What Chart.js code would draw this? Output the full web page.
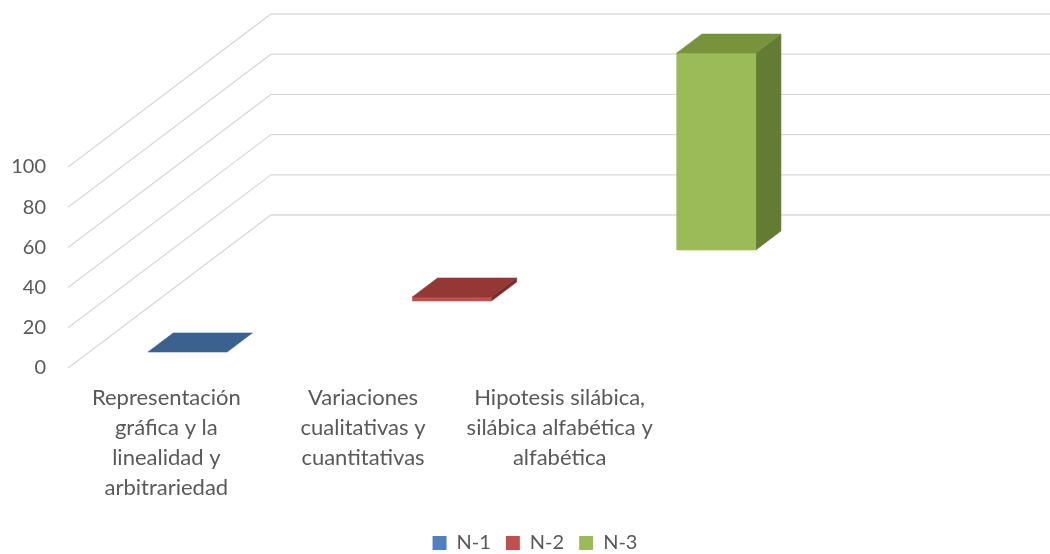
<!DOCTYPE html>
<html>
<head>
<meta charset="utf-8">
<script src="https://cdn.jsdelivr.net/npm/chart.js@4/dist/chart.umd.min.js"></script>
<style>
  html, body { margin: 0; padding: 0; background: #ffffff; }
  #wrap { width: 1050px; height: 554px; position: relative; }
</style>
</head>
<body>
<div id="wrap"><canvas id="chart"></canvas></div>
<script>
// Categories (multi-line labels) and series
const categories = [
  ["Representación", "gráfica y la", "linealidad y", "arbitrariedad"],
  ["Variaciones", "cualitativas y", "cuantitativas"],
  ["Hipotesis silábica,", "silábica alfabética y", "alfabética"]
];
const seriesNames = ["N-1", "N-2", "N-3"];
const n1Values = [0, null, null];
const n2Values = [null, 2, null];
const n3Values = [null, null, 98];
const yTickValues = [0, 20, 40, 60, 80, 100];

// Face colours for each series: front, top, right side
const shades = [
  { front: "#4F81BD", top: "#3A6190", side: "#2E4D74" },
  { front: "#C0504D", top: "#953735", side: "#7A2C2A" },
  { front: "#9BBB59", top: "#77933C", side: "#637B33" }
];

const textColor = "#595959";
const fontFamily = "Lato, 'Open Sans', sans-serif";

// Draws the slanted floor/back-wall grid and the 3D columns, series in depth
const depth3d = {
  id: "depth3d",
  beforeDatasetsDraw(chart, args, opts) {
    const { ctx, chartArea, scales: { y } } = chart;
    const dx = opts.depthX, dy = opts.depthY;
    ctx.save();
    ctx.strokeStyle = opts.gridColor;
    ctx.lineWidth = opts.gridWidth;
    y.ticks.forEach(t => {
      const py = y.getPixelForValue(t.value);
      ctx.beginPath();
      ctx.moveTo(chartArea.left, py);
      ctx.lineTo(chartArea.left + dx, py + dy);
      ctx.lineTo(chart.width, py + dy);
      ctx.stroke();
    });

    const poly = (pts, color) => {
      ctx.beginPath();
      ctx.moveTo(pts[0][0], pts[0][1]);
      for (let k = 1; k < pts.length; k++) ctx.lineTo(pts[k][0], pts[k][1]);
      ctx.closePath();
      ctx.fillStyle = color;
      ctx.strokeStyle = color;
      ctx.lineWidth = 0.6;
      ctx.fill();
      ctx.stroke();
    };

    const n = chart.data.datasets.length;
    for (let s = n - 1; s >= 0; s--) {
      if (!chart.isDatasetVisible(s)) continue;
      const meta = chart.getDatasetMeta(s);
      const ds = chart.data.datasets[s];
      const sh = shades[s];
      const c = (s + 0.5) / n;
      const f = c - opts.barDepth / 2, b = c + opts.barDepth / 2;
      const fx = dx * f, fy = dy * f, kx = dx * b, ky = dy * b;
      meta.data.forEach((bar, i) => {
        if (ds.data[i] == null) return;
        const p = bar.getProps(["x", "y", "base", "width"], true);
        const l = p.x - p.width / 2, r = p.x + p.width / 2;
        const top = p.y, base = p.base;
        if (base - top > 0.5) {
          poly([[r + fx, top + fy], [r + kx, top + ky], [r + kx, base + ky], [r + fx, base + fy]], sh.side);
          poly([[l + fx, top + fy], [r + fx, top + fy], [r + fx, base + fy], [l + fx, base + fy]], sh.front);
        }
        poly([[l + fx, top + fy], [r + fx, top + fy], [r + kx, top + ky], [l + kx, top + ky]], sh.top);
      });
    }
    ctx.restore();
    return false;
  }
};

const seriesValues = [n1Values, n2Values, n3Values];

new Chart(document.getElementById("chart"), {
  type: "bar",
  data: {
    labels: categories,
    datasets: seriesNames.map((name, s) => ({
      label: name,
      data: seriesValues[s],
      backgroundColor: shades[s].front,
      borderWidth: 0,
      grouped: false,
      categoryPercentage: 1,
      barPercentage: 0.402
    }))
  },
  options: {
    responsive: true,
    maintainAspectRatio: false,
    animation: false,
    layout: { padding: { top: 167, right: -20, left: 0, bottom: -9 } },
    scales: {
      x: {
        grid: { display: false, drawTicks: false },
        border: { display: false },
        ticks: {
          color: textColor,
          font: { family: fontFamily, size: 22, lineHeight: 1.364 },
          padding: 15,
          maxRotation: 0,
          autoSkip: false
        },
        afterFit(scale) { scale.height = 150; }
      },
      y: {
        min: 0,
        max: 100,
        grid: { display: false, drawTicks: false },
        border: { display: false },
        afterBuildTicks(scale) { scale.ticks = yTickValues.map(v => ({ value: v })); },
        ticks: { color: textColor, font: { family: fontFamily, size: 20 }, padding: 22 },
        afterFit(scale) { scale.width = 68; }
      },
      // empty space to the right of the floor, where the back wall continues
      wall: {
        type: "linear",
        position: "right",
        display: true,
        grid: { display: false, drawTicks: false },
        border: { display: false },
        ticks: { display: false },
        afterFit(scale) { scale.width = 412; }
      }
    },
    plugins: {
      legend: {
        position: "bottom",
        labels: {
          color: textColor,
          font: { family: fontFamily, size: 20 },
          boxWidth: 14,
          boxHeight: 14,
          padding: 15
        }
      },
      tooltip: { enabled: false },
      depth3d: {
        depthX: 203,
        depthY: -153,
        barDepth: 0.124,
        gridColor: "#D9D9D9",
        gridWidth: 1.3
      }
    }
  },
  plugins: [depth3d]
});
</script>
</body>
</html>
